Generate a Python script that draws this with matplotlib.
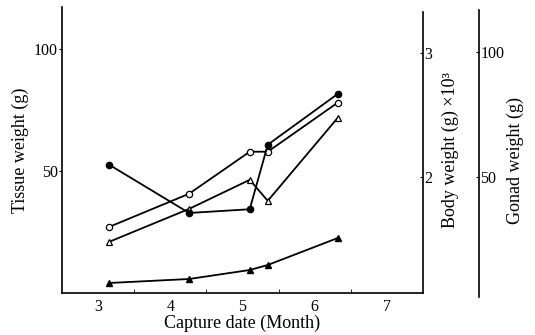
import matplotlib
matplotlib.use("Agg")
import matplotlib.pyplot as plt
import numpy as np

plt.rcParams['font.family'] = ['Liberation Serif', 'DejaVu Serif']

# Capture dates (month)
months = [3.15, 4.26, 5.10, 5.35, 6.32]

# Body weight (g x 10^3), filled circles
body_weight = [2.10, 1.71, 1.74, 2.26, 2.67]
# Tissue weights (g), open circles / open triangles
tissue_open_circle = [27.0, 40.6, 57.8, 57.8, 77.9]
tissue_open_triangle = [20.9, 34.4, 46.3, 37.7, 71.7]
# Gonad weight (g), filled triangles
gonad_weight = [7.6, 9.2, 12.8, 14.8, 25.6]

x_ticks = [3, 4, 5, 6, 7]
tissue_ticks = [50, 100]
body_ticks = [2, 3]
gonad_ticks = [50, 100]

fig = plt.figure(figsize=(5.35, 3.35), dpi=100)
ax = fig.add_axes([62 / 535, 42 / 335, 361 / 535, 286 / 335])
ax_body = ax.twinx()
ax_gonad = ax.twinx()

lw = 1.3
ax.plot(months, tissue_open_circle, '-o', color='black', lw=lw, ms=4.5,
        mfc='white', mec='black', mew=0.9)
ax.plot(months, tissue_open_triangle, '-^', color='black', lw=lw, ms=5,
        mfc='white', mec='black', mew=0.9)
ax_body.plot(months, body_weight, '-o', color='black', lw=lw, ms=4.5)
ax_gonad.plot(months, gonad_weight, '-^', color='black', lw=lw, ms=5)

ax.set_xlim(2.5, 7.5)
ax.set_ylim(0, 117)
ax_body.set_ylim(1.065, 3.37)
ax_gonad.set_ylim(3.6, 118)

for a in (ax, ax_body, ax_gonad):
    a.spines['top'].set_visible(False)

ax.spines['right'].set_visible(False)
ax_body.spines['left'].set_visible(False)
ax_gonad.spines['left'].set_visible(False)
ax_gonad.spines['bottom'].set_visible(False)
ax_body.spines['bottom'].set_visible(False)
ax_body.spines['right'].set_bounds(1.065, 3.33)
ax_gonad.spines['right'].set_position(('axes', 1.155))
ax_gonad.spines['right'].set_bounds(2, 117)

for a in (ax, ax_body, ax_gonad):
    for s in a.spines.values():
        s.set_linewidth(1.2)

ax.set_xticks(x_ticks)
ax.set_xticks([3.5, 4.5, 5.5, 6.5], minor=True)
ax.tick_params(axis='x', which='major', length=0, pad=4, labelsize=11.5)
ax.tick_params(axis='x', which='minor', direction='in', length=3)
ax.set_yticks(tissue_ticks)
ax.tick_params(axis='y', direction='out', length=2, pad=1, labelsize=11.5)

ax_body.set_yticks(body_ticks)
ax_body.tick_params(axis='y', direction='in', length=2, pad=1, labelsize=11.5)
ax_gonad.set_yticks(gonad_ticks)
ax_gonad.tick_params(axis='y', direction='in', length=2, pad=1, labelsize=11.5)

ax.set_xlabel('Capture date (Month)', fontsize=13, labelpad=0)
fig.text(20 / 535, 1 - 150 / 335, 'Tissue weight (g)', rotation=90,
         ha='center', va='center', fontsize=13)
fig.text(450 / 535, 1 - 150 / 335, 'Body weight (g) \u00d710\u00b3', rotation=90,
         ha='center', va='center', fontsize=13)
fig.text(515 / 535, 1 - 160 / 335, 'Gonad weight (g)', rotation=90,
         ha='center', va='center', fontsize=13)

fig.savefig('out.png', dpi=100)
